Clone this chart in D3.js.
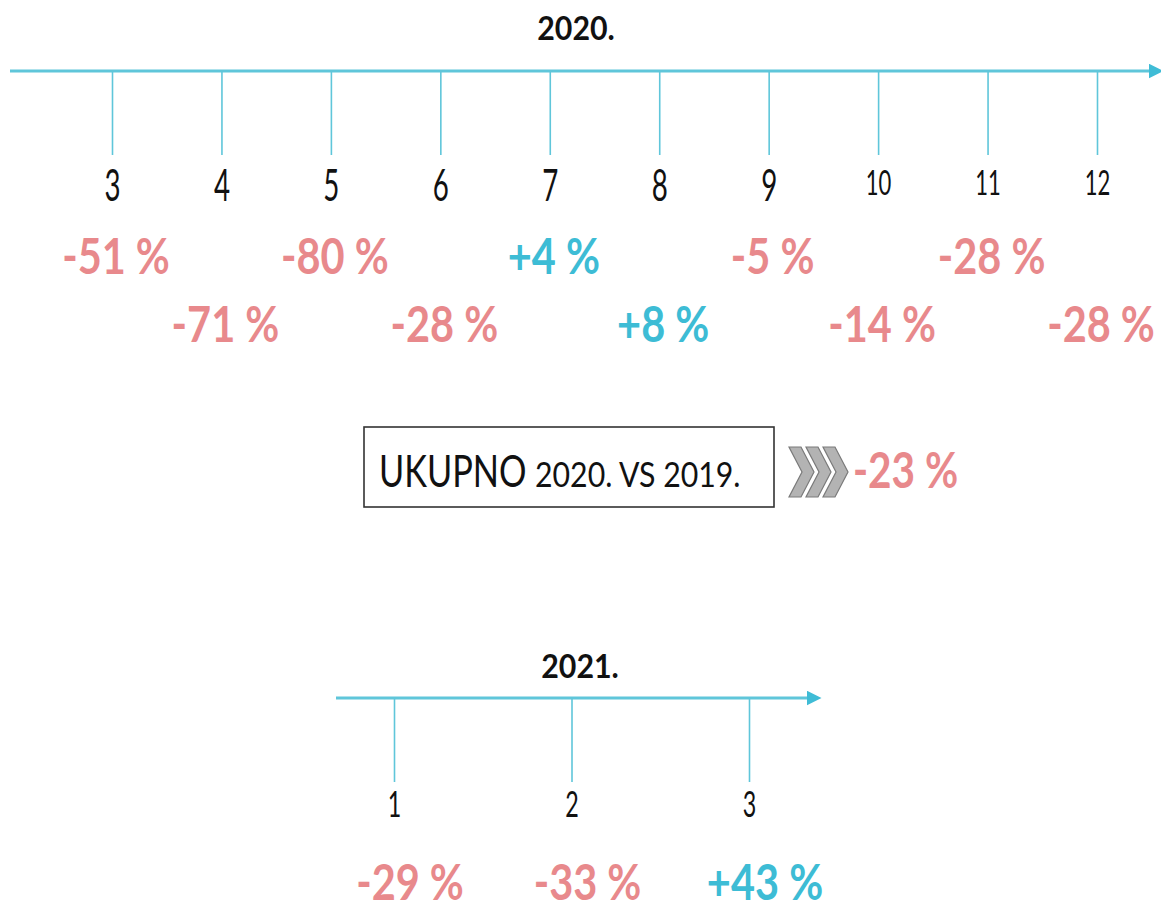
<!DOCTYPE html>
<html>
<head>
<meta charset="utf-8">
<script src="https://d3js.org/d3.v7.min.js"></script>
<style>
  body { margin: 0; background: #fff; }
  text { font-family: Lato, "Open Sans", "Noto Sans", sans-serif; }
</style>
</head>
<body>
<script>
// monthly change vs previous year
var years = ["2020.", "2021."];
var months2020 = ["3", "4", "5", "6", "7", "8", "9", "10", "11", "12"];
var change2020 = [-51, -71, -80, -28, 4, 8, -5, -14, -28, -28];
var months2021 = ["1", "2", "3"];
var change2021 = [-29, -33, 43];
var totalLabel = ["UKUPNO", "2020. VS 2019."];
var totalChange = -23;

var W = 1161, H = 916;
var lineCol = "#5fc6da", pink = "#e8898c", blue = "#3dbcd5";

var svg = d3.select("body").append("svg")
    .attr("width", W).attr("height", H);

svg.append("defs").append("marker")
    .attr("id", "arr").attr("viewBox", "0 0 10 10")
    .attr("refX", 1).attr("refY", 5)
    .attr("markerWidth", 5).attr("markerHeight", 5)
    .attr("orient", "auto")
  .append("path").attr("d", "M0,0L10,5L0,10Z").attr("fill", "#3fbcd6");

function fmt(d) { return (d > 0 ? "+" : "-") + Math.abs(d) + " %"; }

// squeezed text, the original is narrow
function ctext(g, x, y, str, size, weight, fill, sx, anchor) {
  return g.append("text")
      .attr("transform", "translate(" + x + "," + y + ") scale(" + sx + ",1)")
      .attr("text-anchor", anchor || "middle")
      .attr("font-size", size).attr("font-weight", weight)
      .attr("fill", fill).text(str);
}

function timeline(cfg) {
  var g = svg.append("g");
  var x = d3.scalePoint().domain(cfg.months).range(cfg.range);

  ctext(g, cfg.titleX, cfg.titleY, cfg.title, 33, "bold", "#111", 0.92);

  g.append("line")
      .attr("x1", cfg.lineFrom).attr("x2", cfg.lineTo)
      .attr("y1", cfg.y).attr("y2", cfg.y)
      .attr("stroke", lineCol).attr("stroke-width", 3)
      .attr("marker-end", "url(#arr)");

  var ax = g.append("g").attr("transform", "translate(0," + cfg.y + ")")
      .call(d3.axisBottom(x).tickSize(cfg.tick).tickSizeOuter(0).tickPadding(cfg.pad));
  ax.select(".domain").remove();
  ax.selectAll(".tick line").attr("stroke", lineCol).attr("stroke-width", 1.6);
  ax.selectAll(".tick text")
      .attr("font-family", "Lato, 'Open Sans', sans-serif")
      .attr("font-size", d => d.length > 1 ? 35 : cfg.labelSize)
      .attr("fill", "#111")
      .attr("transform", "scale(0.63,1)");

  g.selectAll("text.pct").data(cfg.values).enter().append("text")
      .attr("class", "pct")
      .attr("transform", (d, i) => "translate(" + (x(cfg.months[i]) + cfg.dx) + "," +
            (cfg.alternate && i % 2 ? cfg.row2 : cfg.row1) + ") scale(0.83,1)")
      .attr("text-anchor", "middle")
      .attr("font-size", 50).attr("font-weight", "bold")
      .attr("fill", d => d > 0 ? blue : pink)
      .text(fmt);
}

timeline({
  title: years[0], titleX: 576, titleY: 40,
  months: months2020, values: change2020, range: [112, 1097],
  y: 71, lineFrom: 10, lineTo: 1150, tick: 84, pad: 15, labelSize: 44,
  row1: 274, row2: 342, alternate: true, dx: 4
});

timeline({
  title: years[1], titleX: 580, titleY: 678,
  months: months2021, values: change2021, range: [394, 749],
  y: 698, lineFrom: 336, lineTo: 808, tick: 84, pad: 9, labelSize: 37,
  row1: 900, row2: 900, alternate: false, dx: 16
});

// total box
var tb = svg.append("g");
tb.append("rect").attr("x", 364).attr("y", 427).attr("width", 410).attr("height", 80)
    .attr("fill", "none").attr("stroke", "#333").attr("stroke-width", 1.6);
ctext(tb, 379, 487, totalLabel[0], 44, "normal", "#111", 0.78, "start");
ctext(tb, 535, 487, totalLabel[1], 34, "normal", "#111", 0.89, "start");

// chevrons
[0, 1, 2].forEach(function(i) {
  var x0 = 789 + i * 17;
  tb.append("path")
      .attr("d", "M" + x0 + ",447 L" + (x0 + 12) + ",447 L" + (x0 + 25) + ",472 L" +
            (x0 + 12) + ",497 L" + x0 + ",497 L" + (x0 + 13) + ",472 Z")
      .attr("fill", "#b3b3b3").attr("stroke", "#7a7a7a").attr("stroke-width", 1.2);
});
ctext(tb, 853, 488, fmt(totalChange), 50, "bold", pink, 0.81, "start");
</script>
</body>
</html>
